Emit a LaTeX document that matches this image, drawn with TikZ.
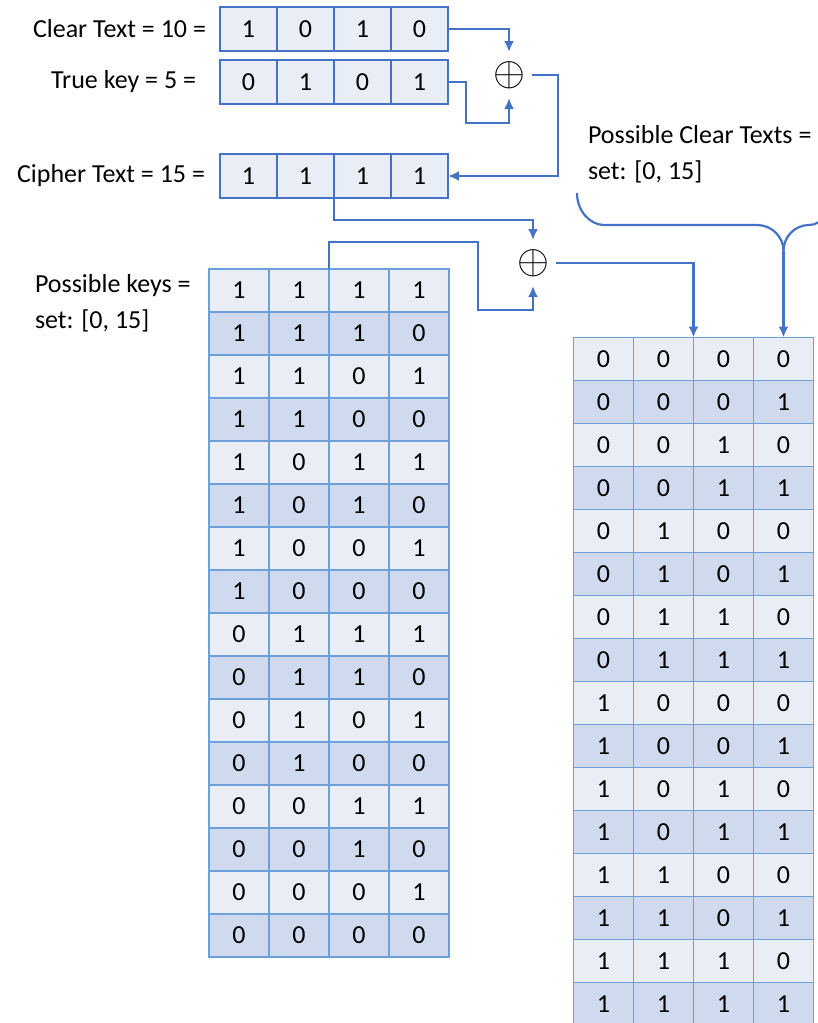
\documentclass[tikz,border=0pt]{standalone}
\usepackage{fontspec}
\setmainfont{Carlito}
\usetikzlibrary{positioning,arrows.meta}
\definecolor{boxblue}{RGB}{68,114,196}
\definecolor{gridblue}{RGB}{108,160,218}
\definecolor{rowlight}{RGB}{233,237,246}
\definecolor{rowdark}{RGB}{207,218,238}
\newcommand{\xorsign}{\scalebox{1.65}{$\oplus$}}

\begin{document}
\begin{tikzpicture}[x=1pt,y=-1pt,inner sep=0pt,outer sep=0pt,
  font=\fontsize{26}{35.5}\selectfont,
  bitbox/.style={rectangle,draw=boxblue,fill=rowlight,line width=1.4pt,minimum width=57pt,minimum height=44pt},
  tcell/.style={rectangle,draw=gridblue,line width=1.4pt,minimum width=60pt,minimum height=43pt},
  xorop/.style={rectangle,minimum size=46pt},
  link/.style={draw=boxblue,line width=2.2pt,-{Latex[length=11pt,width=10pt]}},
  brace/.style={draw=boxblue,line width=2.2pt},
  lbl/.style={text=black}]
\useasboundingbox (0,0) rectangle (817,1023);

% clear text, true key, cipher text
\foreach \b [count=\i] in {1,0,1,0}
  \node[bitbox] (clear-\i) at (191.5+57*\i,29) {\b};
\foreach \b [count=\i] in {0,1,0,1}
  \node[bitbox] (key-\i) at (191.5+57*\i,82) {\b};
\foreach \b [count=\i] in {1,1,1,1}
  \node[bitbox] (cipher-\i) at (191.5+57*\i,176) {\b};
\node[lbl,left=14pt of clear-1] (clearlbl) {Clear Text = 10 =};
\node[lbl,left=24pt of key-1] (keylbl) {True key = 5 =};
\node[lbl,left=15pt of cipher-1] (cipherlbl) {Cipher Text = 15 =};

\node[xorop] (xor1) at (509,75) {\xorsign};
\node[xorop] (xor2) at (533,263) {\xorsign};

% all keys and all clear texts
\foreach \r in {0,...,15}
  \foreach \c in {1,...,4} {
    \pgfmathtruncatemacro\kbit{mod(floor((15-\r)/2^(4-\c)),2)}
    \pgfmathtruncatemacro\pbit{mod(floor(\r/2^(4-\c)),2)}
    \ifodd\r \def\band{rowdark}\else\def\band{rowlight}\fi
    \node[tcell,fill=\band] (k-\r-\c) at (179+60*\c,290.5+43*\r) {\kbit};
    \node[tcell,fill=\band] (p-\r-\c) at (543.5+60*\c,359+43*\r) {\pbit};
  }
\node[lbl,align=left,anchor=west] (keyset) at (35,303) {Possible keys =\\set: [0, 15]};
\node[lbl,align=left,anchor=west] (clearset) at (588,154) {Possible Clear Texts =\\set: [0, 15]};

\draw[link] (clear-4.east) -| (xor1.north);
\draw[link] (key-4.east) -- ++(18,0) |- ([yshift=-25pt]xor1.south) -- (xor1.south);
\draw[link] (xor1.east) -- ++(26,0) |- (cipher-4.east);
\draw[link] (cipher-2.south east) |- ([yshift=20pt]xor2.north) -- (xor2.north);
\coordinate (kbend) at (478,310);
\draw[link] (k-0-2.north east) -- ++(0,-27) -| (kbend) -| (xor2.south);
\draw[link] (xor2.east) -| (p-0-2.north east);

% brace over the clear texts
\coordinate (tip) at (p-0-4.north |- 0,251);
\draw[brace] (577,193) to[out=-90,in=180] (605,225) -- (757,225)
  to[out=0,in=90] (tip) to[out=90,in=180] (809,225) to[out=0,in=-90] (830,195);
\draw[link] (tip) -- (p-0-4.north);
\end{tikzpicture}
\end{document}
